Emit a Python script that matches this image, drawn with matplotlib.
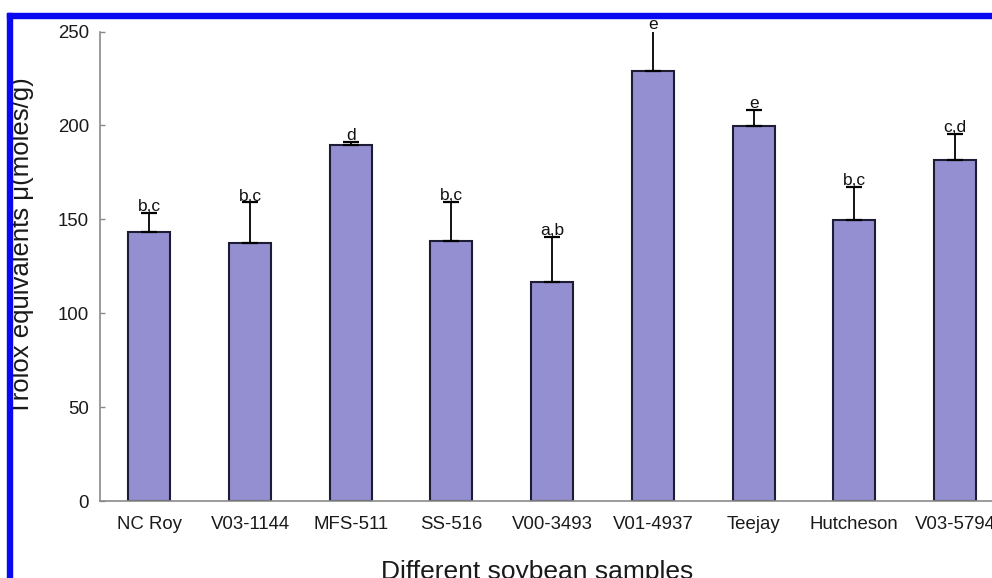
import matplotlib
matplotlib.use("Agg")
import matplotlib.pyplot as plt
from matplotlib.patches import Rectangle
import numpy as np

plt.rcParams['font.family'] = ['Liberation Sans', 'DejaVu Sans']

# Data
samples = ['NC Roy', 'V03-1144', 'MFS-511', 'SS-516', 'V00-3493',
           'V01-4937', 'Teejay', 'Hutcheson', 'V03-5794']
trolox = [143.5, 137.4, 189.4, 138.2, 116.4, 229.2, 199.9, 149.4, 181.4]
errors = [10.0, 21.6, 2.0, 21.0, 24.2, 21.5, 8.5, 18.0, 14.0]
groups = ['b,c', 'b,c', 'd', 'b,c', 'a,b', 'e', 'e', 'b,c', 'c,d']

bar_color = '#948fd0'
edge_color = '#1c1c34'
axis_color = '#8a8a8a'

W, H = 992, 578
fig = plt.figure(figsize=(W / 100, H / 100), dpi=100)
ax = fig.add_axes([100 / W, 77 / H, (W - 100) / W, (501 - 31.5) / H])

x = np.arange(len(samples))
ax.bar(x, trolox, width=0.417, color=bar_color, edgecolor=edge_color,
       linewidth=1.5, zorder=2)
ax.errorbar(x, trolox, yerr=[np.zeros(len(errors)), errors], fmt='none',
            ecolor='black', elinewidth=1.3, capsize=5.5, capthick=1.6, zorder=3)

for xi, v, e, g in zip(x, trolox, errors, groups):
    ax.annotate(g, (xi, v + e), xytext=(0, -1), textcoords='offset points',
                ha='center', va='bottom', fontsize=12.5, color='#111111',
                annotation_clip=False)

ax.set_xlim(-0.49, 8.367)
ax.set_ylim(0, 250)
ax.set_yticks([0, 50, 100, 150, 200, 250])
ax.set_xticks(x)
ax.set_xticklabels(samples)

for side in ['top', 'right']:
    ax.spines[side].set_visible(False)
for side in ['left', 'bottom']:
    ax.spines[side].set_color(axis_color)
    ax.spines[side].set_linewidth(1.2)

ax.tick_params(axis='y', direction='in', length=3.5, width=1, color=axis_color,
               labelsize=13.4, pad=8)
ax.tick_params(axis='x', length=0, labelsize=13.4, pad=11)
for lbl in ax.get_xticklabels() + ax.get_yticklabels():
    lbl.set_color('#1a1a1a')

fig.text(537 / W, (H - 579) / H, 'Different soybean samples', ha='center',
         va='baseline', fontsize=19, color='#1a1a1a')
fig.text(22 / W, (H - 246.5) / H, 'Trolox equivalents \u03bc(moles/g)',
         rotation=90, ha='center', va='center', fontsize=18.5, color='#1a1a1a')

# blue frame from the original page (top and left edges)
frame = '#0a0af0'
fig.patches.append(Rectangle((7 / W, (H - 17.5) / H), 1 - 7 / W, 4.5 / H,
                             transform=fig.transFigure, color=frame, zorder=10))
fig.patches.append(Rectangle((7 / W, 0), 5 / W, (H - 13) / H,
                             transform=fig.transFigure, color=frame, zorder=10))

fig.savefig('out.png', dpi=100)
